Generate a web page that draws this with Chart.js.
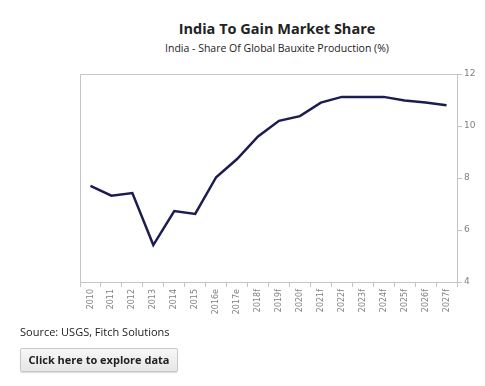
<!DOCTYPE html>
<html>
<head>
<meta charset="utf-8">
<script src="https://cdn.jsdelivr.net/npm/chart.js@4"></script>
<style>
  body { margin: 0; background: #fff; font-family: "Open Sans", sans-serif; }
  #wrap { position: relative; width: 485px; height: 386px; }
  #titulo { position: absolute; left: 0; top: 19px; width: 554px; text-align: center; font-size: 14.5px; font-weight: bold; color: #222; }
  #subtitulo { position: absolute; left: 0; top: 41px; width: 554px; text-align: center; font-size: 10.5px; color: #222; }
  #grafico { position: absolute; left: 0; top: 60px; }
  #fonte { position: absolute; left: 20px; top: 324px; font-size: 11px; color: #222; }
  #botao { position: absolute; left: 20px; top: 348px; width: 156px; height: 22px; border: 1px solid #c8c8c8; border-radius: 2px;
    background: linear-gradient(#f7f7f7, #e6e6e6); font-size: 11px; font-weight: bold; color: #222; text-align: center; line-height: 22px; box-shadow: 0 1px 1px rgba(0,0,0,0.15); }
</style>
</head>
<body>
<div id="wrap">
  <div id="titulo">India To Gain Market Share</div>
  <div id="subtitulo">India - Share Of Global Bauxite Production (%)</div>
  <canvas id="grafico" width="485" height="265"></canvas>
  <div id="fonte">Source: USGS, Fitch Solutions</div>
  <div id="botao">Click here to explore data</div>
</div>
<script>
const anos = ["2010", "2011", "2012", "2013", "2014", "2015", "2016e", "2017e", "2018f", "2019f",
  "2020f", "2021f", "2022f", "2023f", "2024f", "2025f", "2026f", "2027f"];
const participacao = [7.7, 7.32, 7.42, 5.42, 6.73, 6.62, 8.03, 8.73, 9.6, 10.2,
  10.38, 10.9, 11.12, 11.12, 11.12, 10.98, 10.9, 10.8];
const ticksY = [4, 6, 8, 10, 12];

// borda de cima e da esquerda da area do grafico
const bordaArea = {
  id: "bordaArea",
  beforeDatasetsDraw(chart) {
    const { ctx, chartArea } = chart;
    ctx.save();
    ctx.strokeStyle = "#c4c4c4";
    ctx.lineWidth = 1;
    ctx.beginPath();
    ctx.moveTo(chartArea.left + 0.5, chartArea.bottom);
    ctx.lineTo(chartArea.left + 0.5, chartArea.top + 0.5);
    ctx.lineTo(chartArea.right, chartArea.top + 0.5);
    ctx.stroke();
    ctx.restore();
  },
};

const ctx = document.getElementById("grafico").getContext("2d");

new Chart(ctx, {
  type: "line",
  data: {
    labels: anos,
    datasets: [
      {
        label: "India - Share Of Global Bauxite Production (%)",
        data: participacao,
        borderColor: "#1c1c50",
        borderWidth: 2.5,
        pointRadius: 0,
        tension: 0,
        fill: false,
      },
    ],
  },
  options: {
    responsive: false,
    animation: false,
    layout: { padding: { left: 80, right: 8, top: 14, bottom: 0 } },
    plugins: { legend: { display: false }, tooltip: { enabled: false } },
    scales: {
      x: {
        offset: true,
        grid: { offset: true, drawOnChartArea: false, drawTicks: true, tickLength: 5, color: "#c4c4c4" },
        border: { color: "#c4c4c4" },
        ticks: {
          autoSkip: false,
          minRotation: 90,
          maxRotation: 90,
          padding: 2,
          color: "#808080",
          font: { family: "DejaVu Sans", size: 8 },
        },
        afterFit(scale) { scale.height = 43; },
      },
      y: {
        position: "right",
        min: 4,
        max: 12,
        afterBuildTicks(scale) { scale.ticks = ticksY.map(v => ({ value: v })); },
        grid: { drawOnChartArea: false, drawTicks: true, tickLength: 5, color: "#c4c4c4" },
        border: { color: "#c4c4c4" },
        ticks: {
          padding: 2,
          color: "#808080",
          font: { family: "DejaVu Sans", size: 9 },
        },
        afterFit(scale) { scale.width = 20; },
      },
    },
  },
  plugins: [bordaArea],
});
</script>
</body>
</html>
